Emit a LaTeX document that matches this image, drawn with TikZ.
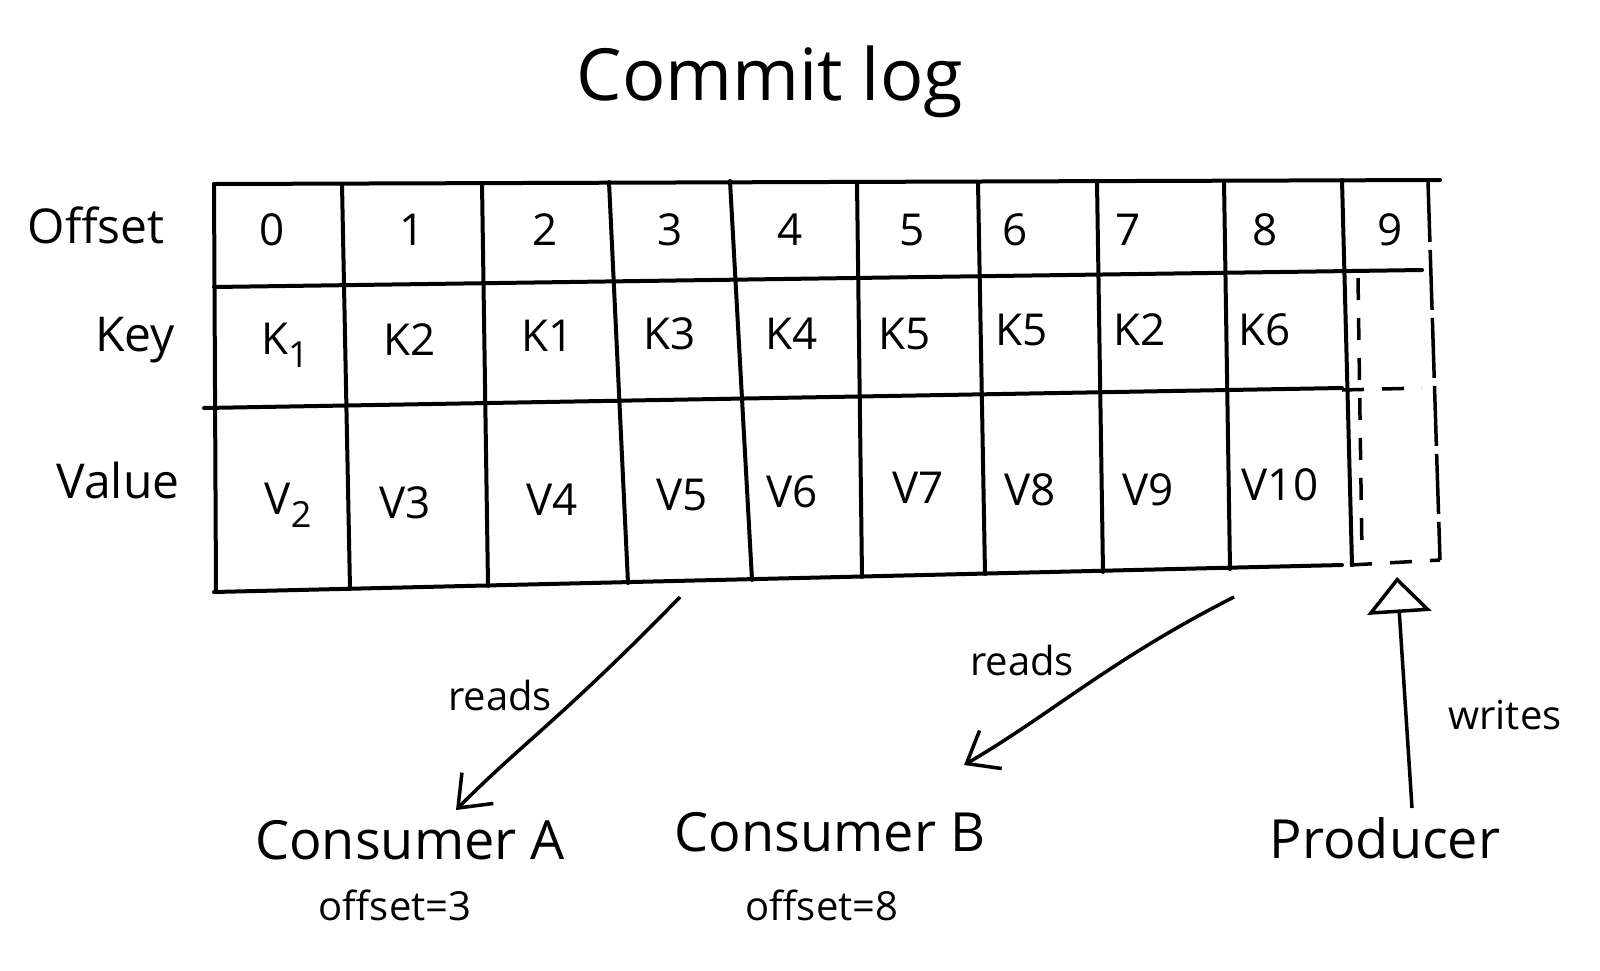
\documentclass[tikz,border=0pt]{standalone}
\usepackage{fontspec}
\setmainfont{Open Sans}
\usetikzlibrary{arrows.meta}
\newcommand{\lowsub}[1]{\raisebox{-0.3em}{\fontsize{36}{40}\selectfont #1}}
\begin{document}
\begin{tikzpicture}[x=1pt,y=-1pt,
  grid/.style={line width=4pt,line cap=round,black},
  dgrid/.style={line width=3.5pt,dash pattern=on 22pt off 18pt,black},
  cell/.style={font=\fontsize{44}{48}\selectfont,inner sep=0pt},
  rowlab/.style={font=\fontsize{48}{52}\selectfont,inner sep=0pt},
  lab/.style={font=\fontsize{54}{58}\selectfont,inner sep=0pt},
  small/.style={font=\fontsize{40}{44}\selectfont,inner sep=0pt},
  arr/.style={line width=3.5pt,-{Straight Barb[length=28pt,width=44pt,line width=3.5pt]}},
  warr/.style={line width=3.5pt,-{Triangle[open,length=36pt,width=64pt,line width=3.5pt]}}]
\useasboundingbox (0,0) rectangle (1600,970);
\fill[white] (0,0) rectangle (1600,970);

% title
\node[font=\fontsize{72}{78}\selectfont,inner sep=0pt] (title) at (770,82) {Commit log};

% grid
\draw[grid] (214,184) -- (1440,180);
\draw[grid] (214,287) -- (1422,270);
\draw[grid] (204,408) -- (1342,388);
\draw[grid] (214,592) -- (1342,565);
\foreach \xa/\ya/\xb/\yb in {214/184/216/592,342/184/350/589,482/183/488/586,609/182/628/583,730/181/752/580,857/182/862/577,978/182/985/574,1097/182/1103/572,1224/181/1230/569,1342/180/1352/565}
  \draw[grid] (\xa,\ya) -- (\xb,\yb);
\draw[dgrid] (1342,390) -- (1422,388);
\draw[dgrid] (1350,565) -- (1440,560);
\draw[dgrid] (1358,278) -- (1362,555);
\draw[line width=3.5pt,dash pattern=on 60pt off 8pt] (1428,182) -- (1440,560);

% offsets
\foreach \i/\x in {0/272,1/412,2/545,3/670,4/790,5/912,6/1015,7/1128,8/1265,9/1390}
  \node[cell] (o\i) at (\x,230) {\i};
% keys
\node[cell] (k0) at (285,345) {K\lowsub{1}};
\node[cell] (k1) at (410,340) {K2};
\node[cell] (k2) at (548,336) {K1};
\node[cell] (k3) at (670,334) {K3};
\node[cell] (k4) at (792,334) {K4};
\node[cell] (k5) at (905,334) {K5};
\node[cell] (k6) at (1022,330) {K5};
\node[cell] (k7) at (1140,330) {K2};
\node[cell] (k8) at (1265,330) {K6};
% values
\node[cell] (v0) at (288,505) {V\lowsub{2}};
\node[cell] (v1) at (405,503) {V3};
\node[cell] (v2) at (552,500) {V4};
\node[cell] (v3) at (682,495) {V5};
\node[cell] (v4) at (792,492) {V6};
\node[cell] (v5) at (918,488) {V7};
\node[cell] (v6) at (1030,490) {V8};
\node[cell] (v7) at (1148,490) {V9};
\node[cell] (v8) at (1280,485) {V10};

% row labels
\node[rowlab] (loff) at (96,225) {Offset};
\node[rowlab] (lkey) at (135,340) {Key};
\node[rowlab] (lval) at (118,480) {Value};

% bottom labels
\node[lab] (ca) at (410,840) {Consumer A};
\node[small] (caoff) at (395,905) {offset=3};
\node[lab] (cb) at (830,832) {Consumer B};
\node[small] (cboff) at (822,905) {offset=8};
\node[lab] (pr) at (1385,838) {Producer};

\coordinate (sa) at (680,597);
\coordinate (sb) at (1234,597);
\coordinate (sp) at (1397,577);
\coordinate (ea) at (456,810);
\coordinate (eb) at (964,765);
\coordinate (ep) at (1412,808);

\draw[arr] (sa) .. controls (560,720) and (520,745) .. (ea);
\draw[arr] (sb) .. controls (1110,660) and (1050,715) .. (eb);
\draw[warr] (ep) -- (sp);

\node[small] (ra) at (500,695) {reads};
\node[small] (rb) at (1022,660) {reads};
\node[small] (wr) at (1505,715) {writes};
\end{tikzpicture}
\end{document}
